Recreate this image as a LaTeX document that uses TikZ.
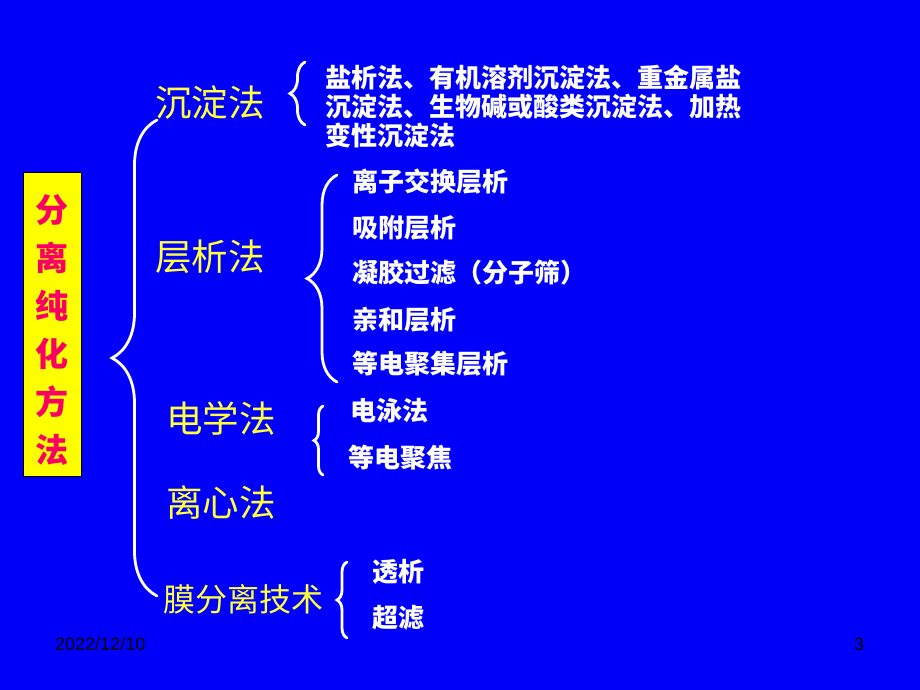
\documentclass[tikz,border=0pt]{standalone}
\usepackage{fontspec}
\setmainfont{Noto Sans CJK SC}
\newfontfamily\footfont{Liberation Sans}
\usetikzlibrary{decorations.pathreplacing}
\definecolor{slideblue}{RGB}{0,0,250}
\definecolor{boxred}{RGB}{250,0,100}
\definecolor{labelyellow}{RGB}{255,255,0}
\definecolor{methodyellow}{RGB}{255,255,60}

\begin{document}
\begin{tikzpicture}[x=1pt,y=-1pt,
    method/.style={text=methodyellow,inner sep=0pt,anchor=west,font=\fontsize{36.5}{36}\selectfont},
    item/.style={text=white,inner sep=0pt,anchor=west,font=\fontsize{26}{29}\selectfont\bfseries},
    bracket/.style={draw=white,line width=2.8pt,line cap=round,decorate,decoration={brace,amplitude=#1}}]

  \fill[slideblue] (0,0) rectangle (920,690);
  \useasboundingbox (0,0) rectangle (920,690);

  % title box
  \node[draw=black,line width=0.8pt,fill=labelyellow,minimum width=58pt,minimum height=304pt,inner sep=0pt] (title) at (52,324) {};
  \node[text=boxred,align=center,inner sep=0pt,font=\fontsize{33}{48}\selectfont\bfseries] (titletext) at (52,330) {分\\离\\纯\\化\\方\\法};

  % main brace
  \coordinate (bigbot) at (157,596);
  \coordinate (bigtop) at (157,120);
  \draw[bracket=45pt] (bigbot) -- (bigtop);

  % methods
  \node[method] (precip) at (155,103) {沉淀法};
  \node[method] (chrom) at (155,257) {层析法};
  \node[method] (electro) at (166,418) {电学法};
  \node[method] (centri) at (166,502) {离心法};
  \node[method,font=\fontsize{32}{32}\selectfont] (membrane) at (163,599) {膜分离技术};

  % precipitation
  \coordinate (pbot) at (305,125);
  \coordinate (ptop) at (305,62);
  \draw[bracket=15pt] (pbot) -- (ptop);
  \node[item,align=left] (precipitems) at (325,106) {盐析法、有机溶剂沉淀法、重金属盐\\沉淀法、生物碱或酸类沉淀法、加热\\变性沉淀法};

  % chromatography
  \coordinate (cbot) at (337,382);
  \coordinate (ctop) at (337,175);
  \draw[bracket=30pt] (cbot) -- (ctop);
  \foreach \name/\txt/\y in {ion/离子交换层析/182, ads/吸附层析/228, gel/凝胶过滤（分子筛）/273, aff/亲和层析/320, iso/等电聚集层析/364}
    \node[item] (\name) at (352,\y) {\txt};

  % electrical
  \coordinate (ebot) at (323,475);
  \coordinate (etop) at (323,406);
  \draw[bracket=9pt] (ebot) -- (etop);
  \node[item] (ephor) at (350,411) {电泳法};
  \node[item] (ifoc) at (348,458) {等电聚焦};

  % membrane
  \coordinate (mbot) at (347,638);
  \coordinate (mtop) at (347,562);
  \draw[bracket=10pt] (mbot) -- (mtop);
  \node[item] (dialysis) at (372,572) {透析};
  \node[item] (ultra) at (372,618) {超滤};

  % footer
  \node[anchor=west,inner sep=0pt,font=\footfont\fontsize{18}{18}\selectfont] (date) at (55,644) {2022/12/10};
  \node[anchor=center,inner sep=0pt,font=\footfont\fontsize{18}{18}\selectfont] (page) at (859,644) {3};
\end{tikzpicture}
\end{document}
